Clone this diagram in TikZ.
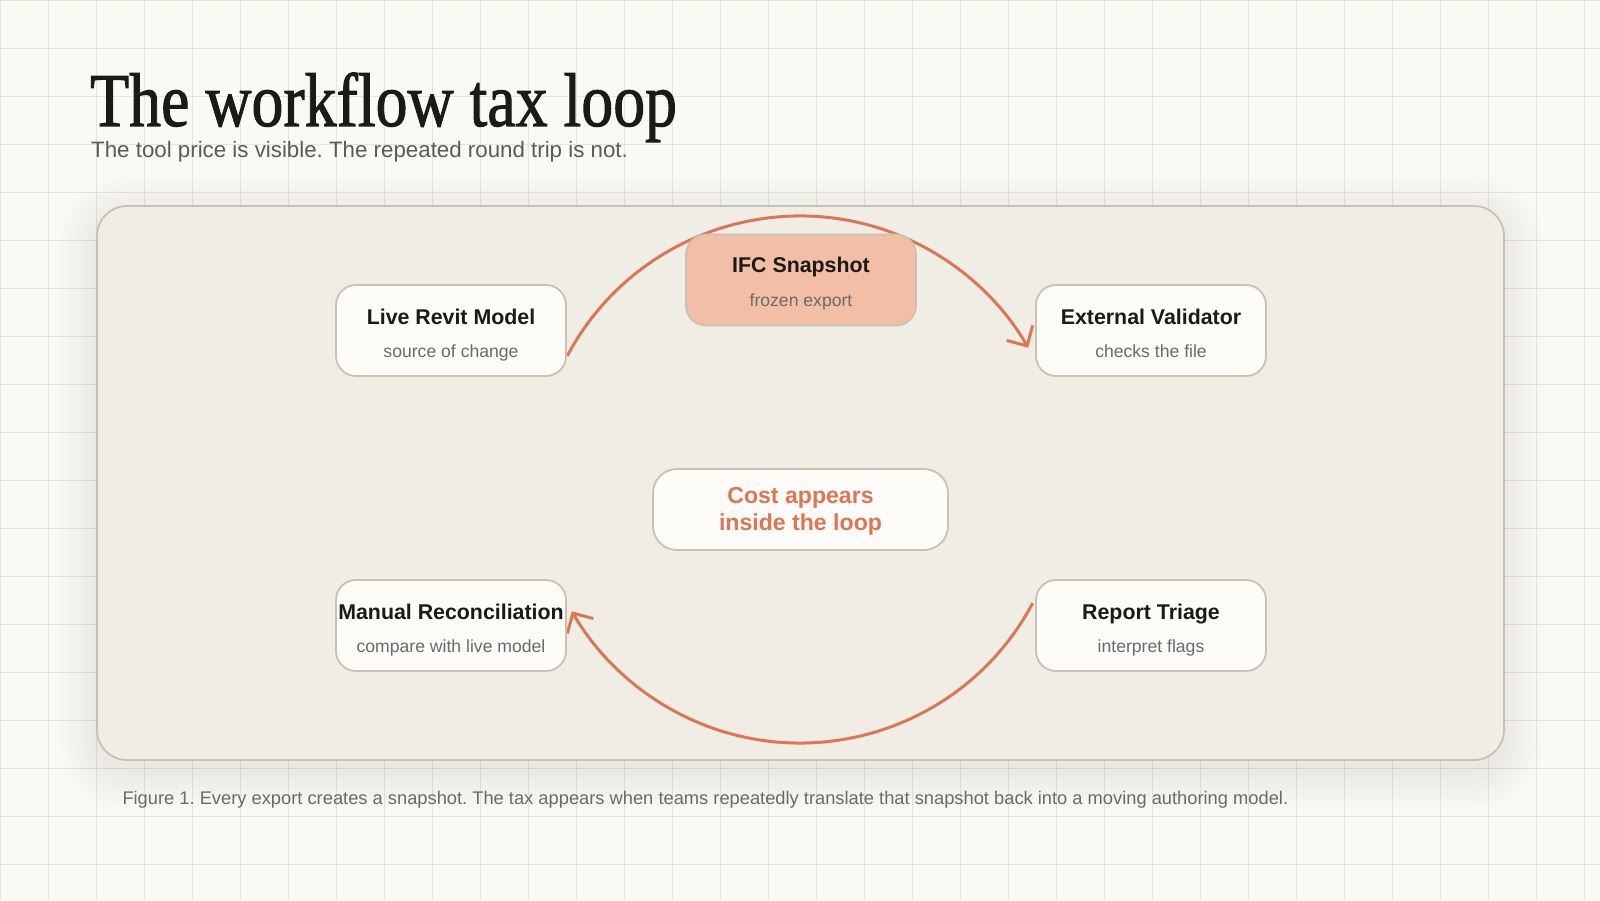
\documentclass[tikz,border=0pt]{standalone}
\usepackage{fontspec}
\usepackage{graphicx}
\setmainfont{Liberation Sans}
\newfontfamily\titlefont[FakeBold=1.4]{Liberation Serif}
\usetikzlibrary{arrows.meta}
\definecolor{bgc}{HTML}{FAF9F4}
\definecolor{gridc}{HTML}{E8E4D8}
\definecolor{panelc}{HTML}{F0EDE4}
\definecolor{panelb}{HTML}{C9C1B2}
\definecolor{cardc}{HTML}{FCFBF7}
\definecolor{cardb}{HTML}{C8C1B6}
\definecolor{ifcc}{HTML}{F2BFA6}
\definecolor{accent}{HTML}{DC7656}
\definecolor{inkc}{HTML}{1A1A17}
\definecolor{greyc}{HTML}{5A5A5A}
\definecolor{subc}{HTML}{6A6A6A}
\tikzset{
  card/.style={draw=cardb, line width=1.8pt, fill=cardc, rounded corners=20pt,
    minimum width=230pt, minimum height=91pt, inner sep=0pt},
  ifccard/.style={card, fill=ifcc},
  costcard/.style={card, minimum width=295pt, minimum height=81pt, rounded corners=24pt},
  ttl/.style={anchor=base, inner sep=0pt, text=inkc, font=\bfseries\fontsize{21.35}{25}\selectfont},
  sub/.style={anchor=base, inner sep=0pt, text=subc, font=\fontsize{17.6}{20}\selectfont},
  costtxt/.style={anchor=base, inner sep=0pt, text=accent, font=\bfseries\fontsize{23.1}{27}\selectfont},
  flow/.style={draw=accent, line width=3pt, -{Straight Barb[length=15pt,width=30pt,line width=3pt]}},
}
\begin{document}
\frenchspacing
\begin{tikzpicture}[x=1pt,y=1pt]
\useasboundingbox (0,0) rectangle (1600,900);
% background and grid
\fill[bgc] (0,0) rectangle (1600,900);
\foreach \gx in {0,48,...,1600} { \draw[gridc, line width=0.9pt] (\gx,0) -- (\gx,900); }
\foreach \gy in {0,48,...,900} { \draw[gridc, line width=0.9pt] (0,900-\gy) -- (1600,900-\gy); }
% panel shadow
\foreach \i in {1,...,16} {
  \pgfmathsetmacro\rr{30+\i*2.5}
  \pgfmathsetmacro\dd{\i*2.5}
  \fill[black, opacity=0.0035, rounded corners=\rr pt]
    (97-\dd, 140-\dd-10) rectangle (1504+\dd, 694+\dd-10);
}
% panel
\node[draw=panelb, line width=1.8pt, fill=panelc, rounded corners=30pt,
  minimum width=1407pt, minimum height=554pt, inner sep=0pt] (panel) at (800.5,417) {};
% title
\node[anchor=base west, inner sep=0pt, text=inkc] (title) at (90,774)
  {\scalebox{0.84}[1]{\titlefont\fontsize{76}{80}\selectfont The workflow tax loop}};
\node[anchor=base west, inner sep=0pt, text=greyc, font=\fontsize{22.3}{26}\selectfont] (subtitle) at (91,742)
  {The tool price is visible. The repeated round trip is not.};
% loop arcs
\coordinate (loop) at (800,420.5);
\draw[flow] ([shift={(152:263.5)}]loop) coordinate (a1) arc[start angle=152, end angle=30, radius=263.5] coordinate (a2);
\draw[flow] ([shift={(-28:263.5)}]loop) coordinate (b1) arc[start angle=-28, end angle=-150, radius=263.5] coordinate (b2);
% cards
\node[card] (live) at (451,569.5) {};
\node[ttl] (liveT) at ([yshift=5.5pt]live.center) {Live Revit Model};
\node[sub] (liveS) at ([yshift=-27pt]live.center) {source of change};

\node[ifccard] (ifc) at (801,620) {};
\node[ttl] (ifcT) at ([yshift=7pt]ifc.center) {IFC Snapshot};
\node[sub] (ifcS) at ([yshift=-27pt]ifc.center) {frozen export};

\node[card] (ext) at (1151,569.5) {};
\node[ttl] (extT) at ([yshift=5.5pt]ext.center) {External Validator};
\node[sub] (extS) at ([yshift=-27pt]ext.center) {checks the file};

\node[card] (man) at (451,274.5) {};
\node[ttl] (manT) at ([yshift=5.5pt]man.center) {Manual Reconciliation};
\node[sub] (manS) at ([yshift=-27pt]man.center) {compare with live model};

\node[card] (tri) at (1151,274.5) {};
\node[ttl] (triT) at ([yshift=5.5pt]tri.center) {Report Triage};
\node[sub] (triS) at ([yshift=-27pt]tri.center) {interpret flags};

\node[costcard] (cost) at (800.5,390.5) {};
\node[costtxt] (costA) at ([yshift=6.2pt]cost.center) {Cost appears};
\node[costtxt] (costB) at ([yshift=-21.5pt]cost.center) {inside the loop};
% caption
\node[anchor=base west, inner sep=0pt, text=subc, font=\fontsize{18.3}{22}\selectfont] (caption) at (122.3,96)
  {Figure 1. Every export creates a snapshot. The tax appears when teams repeatedly translate that snapshot back into a moving authoring model.};
\end{tikzpicture}
\end{document}
